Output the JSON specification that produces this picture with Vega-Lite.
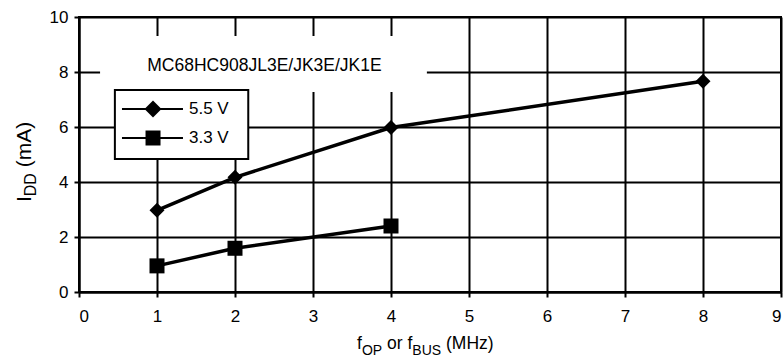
{
  "$schema": "https://vega.github.io/schema/vega-lite/v6.json",
  "width": 702,
  "height": 275,
  "autosize": {"type": "none"},
  "padding": {"left": 79, "top": 17, "right": 2, "bottom": 66},
  "background": "white",
  "config": {
    "font": "Liberation Sans",
    "view": {"stroke": "black", "strokeWidth": 2},
    "axis": {
      "grid": true, "gridColor": "black", "gridWidth": 2, "gridOpacity": 1,
      "domainColor": "black", "domainWidth": 2,
      "tickColor": "black", "tickWidth": 2, "tickSize": 5,
      "labelColor": "black", "labelFontSize": 17, "labelFont": "Liberation Sans"
    }
  },
  "data": {
    "values": [
      {"f": 1, "idd": 2.97, "series": "5.5 V"},
      {"f": 2, "idd": 4.17, "series": "5.5 V"},
      {"f": 4, "idd": 5.98, "series": "5.5 V"},
      {"f": 8, "idd": 7.66, "series": "5.5 V"},
      {"f": 1, "idd": 0.95, "series": "3.3 V"},
      {"f": 2, "idd": 1.59, "series": "3.3 V"},
      {"f": 4, "idd": 2.4, "series": "3.3 V"}
    ]
  },
  "layer": [
    {
      "data": {"values": [{}]},
      "mark": {"type": "rect", "fill": "white"},
      "encoding": {
        "x": {"datum": 0.27, "type": "quantitative", "scale": {"domain": [0, 9], "nice": false}, "title": null},
        "x2": {"datum": 4.46},
        "y": {"datum": 9.31, "type": "quantitative", "scale": {"domain": [0, 10], "nice": false}, "title": null},
        "y2": {"datum": 7.27}
      }
    },
    {
      "data": {"values": [{}]},
      "mark": {"type": "rect", "fill": "white", "stroke": "black", "strokeWidth": 2},
      "encoding": {
        "x": {"datum": 0.46, "type": "quantitative", "scale": {"domain": [0, 9], "nice": false}, "title": null},
        "x2": {"datum": 2.17},
        "y": {"datum": 7.35, "type": "quantitative", "scale": {"domain": [0, 10], "nice": false}, "title": null},
        "y2": {"datum": 4.84}
      }
    },
    {
      "data": {"values": [{}]},
      "mark": {"type": "text", "fontSize": 17.5, "align": "center", "baseline": "alphabetic", "color": "black", "font": "Liberation Sans"},
      "encoding": {
        "x": {"datum": 2.378, "type": "quantitative", "scale": {"domain": [0, 9], "nice": false}, "title": null},
        "y": {"datum": 8.047, "type": "quantitative", "scale": {"domain": [0, 10], "nice": false}, "title": null},
        "text": {"value": "MC68HC908JL3E/JK3E/JK1E"}
      }
    },
    {
      "mark": {"type": "line", "color": "black", "strokeWidth": 3.5},
      "encoding": {
        "x": {"field": "f", "type": "quantitative", "scale": {"domain": [0, 9], "nice": false},
              "axis": {"title": null, "values": [0,1,2,3,4,5,6,7,8,9], "format": "d", "labelPadding": 11}},
        "y": {"field": "idd", "type": "quantitative", "scale": {"domain": [0, 10], "nice": false},
              "axis": {"title": null, "values": [0,2,4,6,8,10], "format": "d", "labelPadding": 6}},
        "detail": {"field": "series", "type": "nominal"}
      }
    },
    {
      "mark": {"type": "point", "filled": true, "color": "black", "opacity": 1, "size": 225},
      "encoding": {
        "x": {"field": "f", "type": "quantitative", "scale": {"domain": [0, 9], "nice": false}, "title": null},
        "y": {"field": "idd", "type": "quantitative", "scale": {"domain": [0, 10], "nice": false}, "title": null},
        "shape": {"field": "series", "type": "nominal", "scale": {"domain": ["5.5 V", "3.3 V"], "range": ["diamond", "square"]}, "legend": null}
      }
    },
    {
      "data": {"values": [{}]},
      "mark": {"type": "rule", "color": "black", "strokeWidth": 2},
      "encoding": {
        "x": {"datum": 0.551, "type": "quantitative", "scale": {"domain": [0, 9], "nice": false}, "title": null},
        "x2": {"datum": 1.333},
        "y": {"datum": 6.655, "type": "quantitative", "scale": {"domain": [0, 10], "nice": false}, "title": null}
      }
    },
    {
      "data": {"values": [{}]},
      "mark": {"type": "rule", "color": "black", "strokeWidth": 2},
      "encoding": {
        "x": {"datum": 0.551, "type": "quantitative", "scale": {"domain": [0, 9], "nice": false}, "title": null},
        "x2": {"datum": 1.333},
        "y": {"datum": 5.6, "type": "quantitative", "scale": {"domain": [0, 10], "nice": false}, "title": null}
      }
    },
    {
      "data": {"values": [{}]},
      "mark": {"type": "point", "shape": "diamond", "filled": true, "color": "black", "opacity": 1, "size": 289},
      "encoding": {
        "x": {"datum": 0.949, "type": "quantitative", "scale": {"domain": [0, 9], "nice": false}, "title": null},
        "y": {"datum": 6.655, "type": "quantitative", "scale": {"domain": [0, 10], "nice": false}, "title": null}
      }
    },
    {
      "data": {"values": [{}]},
      "mark": {"type": "point", "shape": "square", "filled": true, "color": "black", "opacity": 1, "size": 225},
      "encoding": {
        "x": {"datum": 0.949, "type": "quantitative", "scale": {"domain": [0, 9], "nice": false}, "title": null},
        "y": {"datum": 5.6, "type": "quantitative", "scale": {"domain": [0, 10], "nice": false}, "title": null}
      }
    },
    {
      "data": {"values": [{}]},
      "mark": {"type": "text", "fontSize": 17, "align": "left", "baseline": "middle", "color": "black"},
      "encoding": {
        "x": {"datum": 1.41, "type": "quantitative", "scale": {"domain": [0, 9], "nice": false}, "title": null},
        "y": {"datum": 6.655, "type": "quantitative", "scale": {"domain": [0, 10], "nice": false}, "title": null},
        "text": {"value": "5.5 V"}
      }
    },
    {
      "data": {"values": [{}]},
      "mark": {"type": "text", "fontSize": 17, "align": "left", "baseline": "middle", "color": "black"},
      "encoding": {
        "x": {"datum": 1.41, "type": "quantitative", "scale": {"domain": [0, 9], "nice": false}, "title": null},
        "y": {"datum": 5.6, "type": "quantitative", "scale": {"domain": [0, 10], "nice": false}, "title": null},
        "text": {"value": "3.3 V"}
      }
    },
    {
      "data": {"values": [{}]},
      "mark": {"type": "text", "fontSize": 17.5, "align": "left", "baseline": "alphabetic", "color": "black", "dx": 0},
      "encoding": {
        "x": {"datum": 3.564, "type": "quantitative", "scale": {"domain": [0, 9], "nice": false}, "title": null},
        "y": {"datum": -2.073, "type": "quantitative", "scale": {"domain": [0, 10], "nice": false}, "title": null},
        "text": {"value": "f"}
      }
    },
    {
      "data": {"values": [{}]},
      "mark": {"type": "text", "fontSize": 14, "align": "left", "baseline": "alphabetic", "color": "black", "dx": 4.9, "dy": 6},
      "encoding": {
        "x": {"datum": 3.564, "type": "quantitative", "scale": {"domain": [0, 9], "nice": false}, "title": null},
        "y": {"datum": -2.073, "type": "quantitative", "scale": {"domain": [0, 10], "nice": false}, "title": null},
        "text": {"value": "OP"}
      }
    },
    {
      "data": {"values": [{}]},
      "mark": {"type": "text", "fontSize": 17.5, "align": "left", "baseline": "alphabetic", "color": "black", "dx": 30},
      "encoding": {
        "x": {"datum": 3.564, "type": "quantitative", "scale": {"domain": [0, 9], "nice": false}, "title": null},
        "y": {"datum": -2.073, "type": "quantitative", "scale": {"domain": [0, 10], "nice": false}, "title": null},
        "text": {"value": "or f"}
      }
    },
    {
      "data": {"values": [{}]},
      "mark": {"type": "text", "fontSize": 14, "align": "left", "baseline": "alphabetic", "color": "black", "dx": 55.3, "dy": 6},
      "encoding": {
        "x": {"datum": 3.564, "type": "quantitative", "scale": {"domain": [0, 9], "nice": false}, "title": null},
        "y": {"datum": -2.073, "type": "quantitative", "scale": {"domain": [0, 10], "nice": false}, "title": null},
        "text": {"value": "BUS"}
      }
    },
    {
      "data": {"values": [{}]},
      "mark": {"type": "text", "fontSize": 17.5, "align": "left", "baseline": "alphabetic", "color": "black", "dx": 89},
      "encoding": {
        "x": {"datum": 3.564, "type": "quantitative", "scale": {"domain": [0, 9], "nice": false}, "title": null},
        "y": {"datum": -2.073, "type": "quantitative", "scale": {"domain": [0, 10], "nice": false}, "title": null},
        "text": {"value": "(MHz)"}
      }
    },
    {
      "data": {"values": [{}]},
      "mark": {"type": "text", "fontSize": 21, "align": "left", "baseline": "alphabetic", "color": "black", "angle": 270, "dx": 0},
      "encoding": {
        "x": {"datum": -0.615, "type": "quantitative", "scale": {"domain": [0, 9], "nice": false}, "title": null},
        "y": {"datum": 3.273, "type": "quantitative", "scale": {"domain": [0, 10], "nice": false}, "title": null},
        "text": {"value": "I"}
      }
    },
    {
      "data": {"values": [{}]},
      "mark": {"type": "text", "fontSize": 16, "align": "left", "baseline": "alphabetic", "color": "black", "angle": 270, "dx": 5.8, "dy": 5},
      "encoding": {
        "x": {"datum": -0.615, "type": "quantitative", "scale": {"domain": [0, 9], "nice": false}, "title": null},
        "y": {"datum": 3.273, "type": "quantitative", "scale": {"domain": [0, 10], "nice": false}, "title": null},
        "text": {"value": "DD"}
      }
    },
    {
      "data": {"values": [{}]},
      "mark": {"type": "text", "fontSize": 21, "align": "left", "baseline": "alphabetic", "color": "black", "angle": 270, "dx": 34.7},
      "encoding": {
        "x": {"datum": -0.615, "type": "quantitative", "scale": {"domain": [0, 9], "nice": false}, "title": null},
        "y": {"datum": 3.273, "type": "quantitative", "scale": {"domain": [0, 10], "nice": false}, "title": null},
        "text": {"value": "(mA)"}
      }
    }
  ]
}
